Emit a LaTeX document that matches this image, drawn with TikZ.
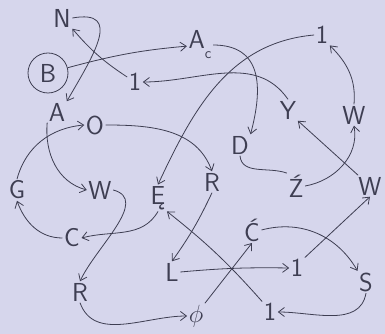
\documentclass[tikz,border=0pt]{standalone}
\usepackage{tikz}
\usetikzlibrary{arrows.meta}
\definecolor{paper}{RGB}{214,214,236}
\definecolor{ink}{RGB}{62,62,82}

\begin{document}
\begin{tikzpicture}[x=1pt, y=1pt, >={Straight Barb[length=6pt, width=9pt]},
    letter/.style={font=\sffamily\fontsize{26}{26}\selectfont, text=ink, inner sep=1.5pt},
    edge/.style={->, ink, thick}]
    \fill[paper] (0,0) rectangle (385,334);
    \useasboundingbox (0,0) rectangle (385,334);
    % letters, top part
    \node[letter] (N) at (62,316) {N};
    \node[letter, draw=ink, thick, circle, minimum size=40pt] (B) at (48,261) {B};
    \node[letter] (A1) at (57,222) {A};
    \node[letter] (I1) at (135,252) {1};
    \node[letter] (Ac) at (200,289) {A\raisebox{-10pt}{\fontsize{15}{15}\selectfont c}};
    \node[letter] (I2) at (322,299) {1};
    \node[letter] (D) at (240,189) {D};
    \node[letter] (Y) at (288,224) {Y};
    \node[letter] (W1) at (354,219) {W};
    \node[letter] (Z) at (296,148) {Ź};
    \node[letter] (W2) at (370,148) {W};
    % letters, middle part
    \node[letter] (O) at (95,209) {O};
    \node[letter] (R1) at (212,152) {R};
    \node[letter] (G) at (17,144) {G};
    \node[letter] (W3) at (100,144) {W};
    \node[letter] (E) at (158,136) {Ę};
    \node[letter] (C1) at (72,96) {C};
    \node[letter] (C2) at (252,104) {Ć};
    % letters, bottom part
    \node[letter] (L) at (172,62) {L};
    \node[letter] (I3) at (297,66) {1};
    \node[letter] (S) at (366,52) {S};
    \node[letter] (R2) at (80,42) {R};
    \node[letter] (Phi) at (196,18) {$\phi$};
    \node[letter] (I4) at (270,22) {1};
    % arrows, top part
    \draw[edge] (B) to[out=15, in=185] (Ac);
    \draw[edge] (N.east) to[out=10, in=60, looseness=1.6] (A1.north east);
    \draw[edge] (I1) to[bend left=8] (N.south east);
    \draw[edge] (Ac.east) to[out=0, in=75, looseness=1.3] (D.north east);
    \draw[edge] (Y.north) to[out=125, in=0] (I1.east);
    \draw[edge] (I2.west) to[out=185, in=65] (E.north);
    \draw[edge] (W1.north) to[out=85, in=-45] (I2.south east);
    \draw[edge] (W2) -- (Y.south east);
    \draw[edge] (Z.east) to[out=10, in=-80] (W1.south);
    \draw[ink, thick] (D.south) to[out=-85, in=160] (Z.north west);
    % arrows, middle part
    \draw[edge] (G.north) to[out=75, in=185] (O.west);
    \draw[edge] (A1.south west) to[out=-95, in=165] (W3.west);
    \draw[edge] (O.east) to[out=0, in=110] (R1.north);
    \draw[edge] (W3.east) to[out=-15, in=65] (R2.north);
    \draw[edge] (E.south) to[out=-120, in=15] (C1.east);
    \draw[edge] (C1.west) to[out=180, in=-70] (G.south);
    % arrows, bottom part
    \draw[edge] (R2.south) to[out=-70, in=180] (Phi.west);
    \draw[edge] (R1.south) to[bend left=5] (L.north);
    \draw[edge] (I4.north west) to[bend right=5] (E.south east);
    \draw[edge] (Phi.north east) -- (C2.south);
    \draw[edge] (L.east) to[bend left=3] (I3.west);
    \draw[edge] (C2.east) to[out=15, in=120] (S.north west);
    \draw[edge] (S.south) to[out=-100, in=0] (I4.east);
    \draw[edge] (I3.north east) -- (W2.south);
\end{tikzpicture}
\end{document}
